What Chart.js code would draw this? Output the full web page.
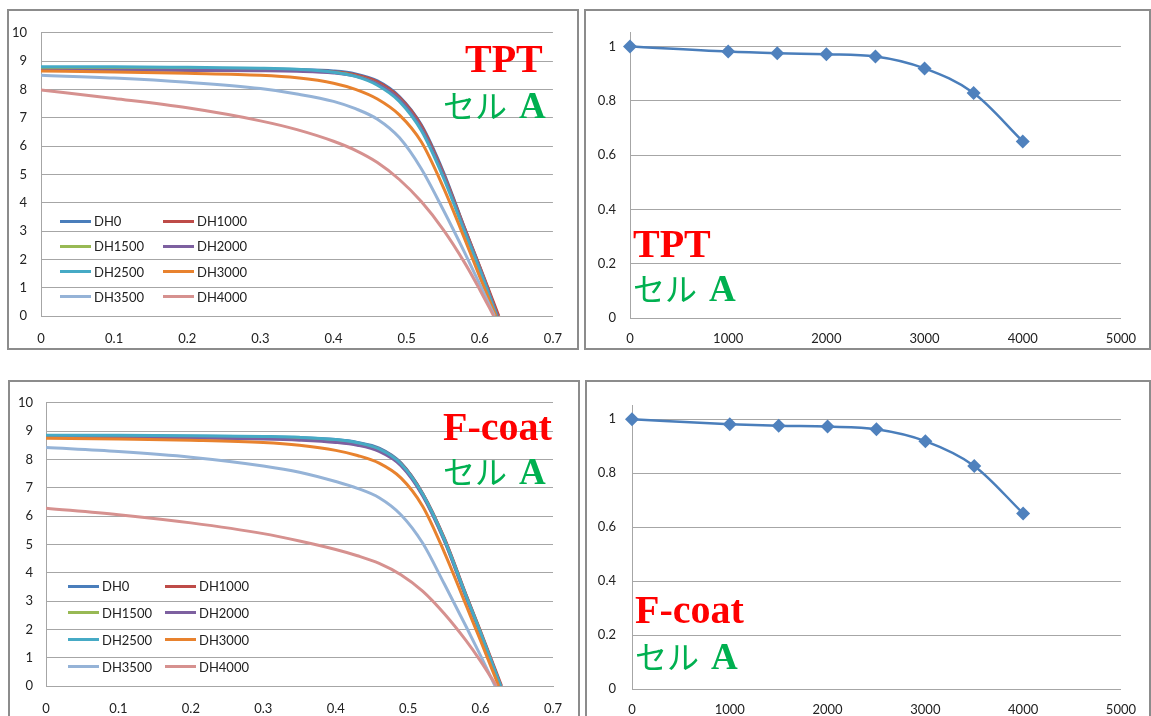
<!DOCTYPE html>
<html>
<head>
<meta charset="utf-8">
<script src="https://cdn.jsdelivr.net/npm/chart.js@4.4.1/dist/chart.umd.min.js"></script>
<style>
body { margin: 0; width: 1151px; height: 716px; overflow: hidden; background: #fff; font-family: Lato, sans-serif; }
.panel { position: absolute; box-sizing: border-box; border: 2px solid #8c8c8c; background: #fff; }
.panel canvas { position: absolute; left: 0; top: 0; }
.note { position: absolute; line-height: 1; white-space: nowrap; }
.red { color: #ff0000; font: bold 40px "Liberation Serif", "DejaVu Serif", serif; }
.green { color: #00b050; font: bold 37px "Liberation Serif", "DejaVu Serif", serif; }
.green .kana { font: 400 32px "Noto Sans CJK JP", sans-serif; margin-right: 12px; }
.legend-item { position: absolute; display: flex; align-items: center; font-size: 13px; color: #222; height: 20px; }
.legend-item i { display: inline-block; width: 31px; height: 3px; margin-right: 3px; }
</style>
</head>
<body>

<div class="panel" style="left:7px; top:9px; width:572px; height:341px;">
  <canvas id="tptIV" width="568" height="337"></canvas>
  <div id="tptLegend"></div>
</div>
<div class="panel" style="left:584px; top:9px; width:567px; height:341px;">
  <canvas id="tptRatio" width="563" height="337"></canvas>
</div>
<div class="panel" style="left:8px; top:380px; width:572px; height:345px;">
  <canvas id="fcoatIV" width="568" height="337"></canvas>
  <div id="fcoatLegend"></div>
</div>
<div class="panel" style="left:585px; top:380px; width:566px; height:345px;">
  <canvas id="fcoatRatio" width="562" height="337"></canvas>
</div>

<div class="note red" style="left:465px; top:35px;">TPT</div>
<div class="note green" style="left:443px; top:81px;"><span class="kana">セル</span>A</div>
<div class="note red" style="left:633px; top:220px;">TPT</div>
<div class="note green" style="left:633px; top:264px;"><span class="kana">セル</span>A</div>
<div class="note red" style="left:443px; top:403px;">F-coat</div>
<div class="note green" style="left:443px; top:447px;"><span class="kana">セル</span>A</div>
<div class="note red" style="left:635px; top:586px;">F-coat</div>
<div class="note green" style="left:635px; top:632px;"><span class="kana">セル</span>A</div>

<script>
// I-V curves after damp heat (DH) hours
const voltage = [0, 0.1, 0.2, 0.3, 0.35, 0.4, 0.43, 0.46, 0.49, 0.52, 0.55, 0.58, 0.6];
const seriesNames = ['DH0', 'DH1000', 'DH1500', 'DH2000', 'DH2500', 'DH3000', 'DH3500', 'DH4000'];
const seriesColors = ['#4a7ebb', '#be4b48', '#98b954', '#7d60a0', '#46aac5', '#e8822e', '#95b3d7', '#d6918f'];

// TPT
const tptDH0    = [8.75, 8.75, 8.74, 8.72, 8.70, 8.65, 8.55, 8.30, 7.75, 6.75, 5.10, 3.05, 1.72];
const tptDH1000 = [8.72, 8.72, 8.71, 8.70, 8.68, 8.62, 8.52, 8.27, 7.72, 6.72, 5.05, 3.05, 1.75];
const tptDH1500 = [8.74, 8.74, 8.73, 8.71, 8.68, 8.60, 8.48, 8.20, 7.65, 6.62, 4.98, 2.98, 1.68];
const tptDH2000 = [8.68, 8.68, 8.67, 8.66, 8.64, 8.58, 8.47, 8.20, 7.65, 6.62, 4.98, 2.98, 1.68];
const tptDH2500 = [8.80, 8.80, 8.78, 8.75, 8.71, 8.61, 8.46, 8.15, 7.58, 6.55, 4.90, 2.92, 1.62];
const tptDH3000 = [8.65, 8.62, 8.57, 8.50, 8.41, 8.22, 8.00, 7.66, 7.10, 6.15, 4.55, 2.68, 1.38];
const tptDH3500 = [8.50, 8.40, 8.25, 8.03, 7.84, 7.58, 7.32, 6.95, 6.30, 5.20, 3.75, 2.20, 1.12];
const tptDH4000 = [7.98, 7.68, 7.35, 6.89, 6.58, 6.17, 5.85, 5.42, 4.82, 4.04, 3.05, 1.85, 0.93];
const tptVoc = [0.625, 0.626, 0.624, 0.624, 0.623, 0.622, 0.620, 0.619];

// F-coat
const fcoatDH0    = [8.83, 8.83, 8.82, 8.80, 8.77, 8.70, 8.60, 8.40, 7.88, 6.80, 5.20, 3.20, 1.90];
const fcoatDH1000 = [8.80, 8.80, 8.79, 8.77, 8.74, 8.67, 8.57, 8.37, 7.86, 6.80, 5.22, 3.22, 1.93];
const fcoatDH1500 = [8.82, 8.82, 8.81, 8.78, 8.75, 8.66, 8.55, 8.33, 7.82, 6.75, 5.15, 3.15, 1.87];
const fcoatDH2000 = [8.78, 8.77, 8.75, 8.72, 8.68, 8.60, 8.50, 8.28, 7.78, 6.72, 5.12, 3.12, 1.85];
const fcoatDH2500 = [8.85, 8.85, 8.84, 8.81, 8.78, 8.70, 8.59, 8.37, 7.85, 6.78, 5.18, 3.18, 1.88];
const fcoatDH3000 = [8.75, 8.72, 8.68, 8.60, 8.50, 8.32, 8.14, 7.87, 7.35, 6.35, 4.72, 2.85, 1.60];
const fcoatDH3500 = [8.42, 8.28, 8.08, 7.77, 7.55, 7.22, 6.98, 6.65, 6.05, 5.05, 3.60, 2.10, 1.07];
const fcoatDH4000 = [6.28, 6.05, 5.76, 5.38, 5.12, 4.82, 4.60, 4.33, 3.93, 3.35, 2.55, 1.60, 0.88];
const fcoatVoc = [0.628, 0.629, 0.627, 0.627, 0.628, 0.625, 0.620, 0.622];

// normalised output vs DH hours
const dhHours = [0, 1000, 1500, 2000, 2500, 3000, 3500, 4000];
const tptRatio = [1.0, 0.981, 0.975, 0.971, 0.963, 0.919, 0.828, 0.650];
const fcoatRatio = [1.0, 0.982, 0.976, 0.973, 0.963, 0.919, 0.827, 0.651];

const gridGray = '#a6a6a6';
const textColor = '#222';
const tickFont = { family: 'Lato, "Open Sans", sans-serif', size: 13 };

function ivChart(id, currents, vocs, g) {
    return new Chart(document.getElementById(id), {
        type: 'line',
        data: {
            datasets: currents.map((cur, i) => ({
                label: seriesNames[i],
                data: voltage.map((v, j) => ({ x: v, y: cur[j] })).concat([{ x: vocs[i], y: 0 }]),
                borderColor: seriesColors[i],
                backgroundColor: seriesColors[i],
                borderWidth: 3,
                pointRadius: 0,
                cubicInterpolationMode: 'monotone',
                order: currents.length - i
            }))
        },
        options: {
            responsive: false,
            animation: false,
            layout: { padding: { top: g.top, right: g.right, left: 0, bottom: 0 } },
            plugins: { legend: { display: false }, tooltip: { enabled: false } },
            scales: {
                x: {
                    type: 'linear', min: 0, max: 0.7,
                    afterFit: s => { s.height = g.xh; },
                    grid: { display: false, drawTicks: false },
                    border: { color: gridGray },
                    ticks: { stepSize: 0.1, padding: g.xpad, color: textColor, font: tickFont, maxRotation: 0 }
                },
                y: {
                    min: 0, max: 10,
                    afterFit: s => { s.width = g.yw; },
                    grid: { color: gridGray, drawTicks: false },
                    border: { color: gridGray },
                    ticks: { stepSize: 1, padding: g.ypad, color: textColor, font: tickFont }
                }
            }
        }
    });
}

function ratioChart(id, values, g) {
    return new Chart(document.getElementById(id), {
        type: 'line',
        data: {
            datasets: [{
                data: dhHours.map((h, i) => ({ x: h, y: values[i] })),
                borderColor: '#4a7ebb',
                backgroundColor: '#4f81bd',
                borderWidth: 2.5,
                pointStyle: 'rectRot',
                pointRadius: 7,
                pointBorderWidth: 0,
                cubicInterpolationMode: 'monotone',
                clip: false
            }]
        },
        options: {
            responsive: false,
            animation: false,
            layout: { padding: { top: g.top, right: g.right, left: 0, bottom: 0 } },
            plugins: { legend: { display: false }, tooltip: { enabled: false } },
            scales: {
                x: {
                    type: 'linear', min: 0, max: 5000,
                    afterFit: s => { s.height = g.xh; },
                    grid: { display: false, drawTicks: false },
                    border: { color: gridGray },
                    ticks: { stepSize: 1000, padding: g.xpad, color: textColor, font: tickFont, maxRotation: 0,
                             callback: v => String(v) }
                },
                y: {
                    min: 0, max: 1.05,
                    afterFit: s => { s.width = g.yw; },
                    grid: { color: gridGray, drawTicks: false },
                    border: { color: gridGray },
                    ticks: { stepSize: 0.2, includeBounds: false, padding: g.ypad, color: textColor, font: tickFont,
                             callback: v => String(Math.round(v * 10) / 10) }
                }
            }
        }
    });
}

// html legend in two columns, built from the chart's own datasets
function buildLegend(chart, elId, g) {
    const box = document.getElementById(elId);
    chart.data.datasets.forEach((ds, i) => {
        const item = document.createElement('div');
        item.className = 'legend-item';
        item.style.left = (g.x + (i % 2) * g.colW) + 'px';
        item.style.top = (g.y + Math.floor(i / 2) * g.rowH - 10) + 'px';
        item.innerHTML = '<i style="background:' + ds.borderColor + '"></i>' + ds.label;
        box.appendChild(item);
    });
}

const tptIV = ivChart('tptIV', [tptDH0, tptDH1000, tptDH1500, tptDH2000, tptDH2500, tptDH3000, tptDH3500, tptDH4000], tptVoc,
    { top: 14, right: 21, xh: 32, yw: 32, xpad: 15, ypad: 14 });
const fcoatIV = ivChart('fcoatIV', [fcoatDH0, fcoatDH1000, fcoatDH1500, fcoatDH2000, fcoatDH2500, fcoatDH3000, fcoatDH3500, fcoatDH4000], fcoatVoc,
    { top: 13, right: 25, xh: 33, yw: 36, xpad: 15, ypad: 13 });
ratioChart('tptRatio', tptRatio, { top: 12, right: 22, xh: 30, yw: 44, xpad: 13, ypad: 14 });
ratioChart('fcoatRatio', fcoatRatio, { top: 13, right: 22, xh: 30, yw: 45, xpad: 13, ypad: 16 });

buildLegend(tptIV, 'tptLegend', { x: 51, y: 210, colW: 103, rowH: 25.3 });
buildLegend(fcoatIV, 'fcoatLegend', { x: 58, y: 204, colW: 97, rowH: 26.9 });
</script>
</body>
</html>
